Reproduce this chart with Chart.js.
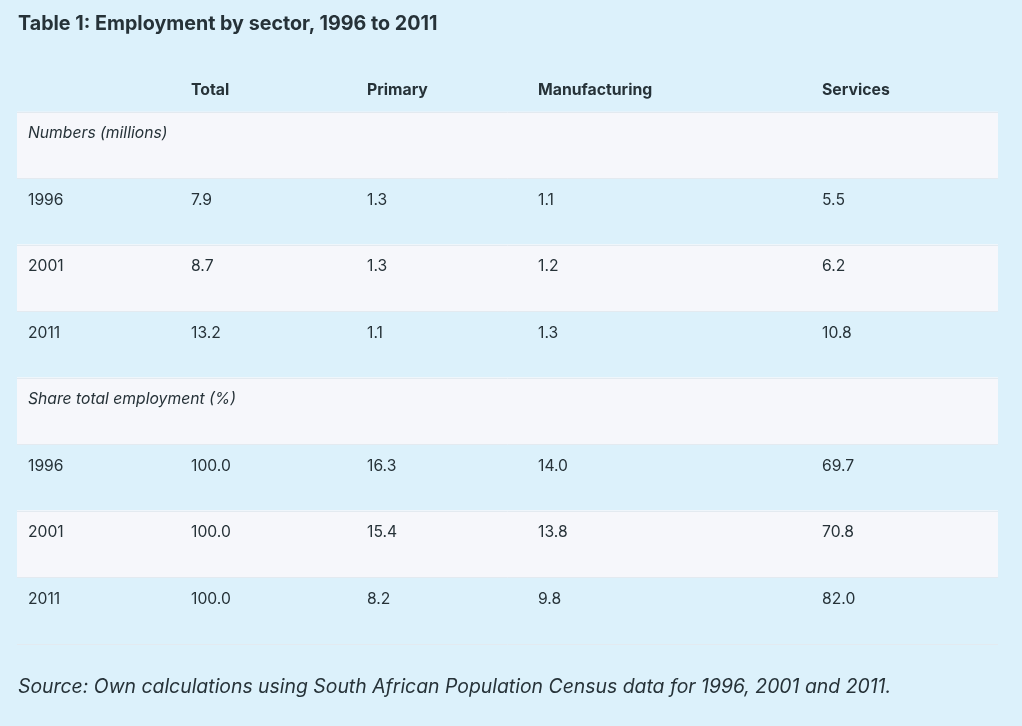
<!DOCTYPE html>
<html>
<head>
<meta charset="utf-8">
<script src="https://cdn.jsdelivr.net/npm/chart.js@4"></script>
<style>
  body { margin: 0; background: #dcf1fb; font-family: Inter, sans-serif; color: #263238; }
  #wrap { position: relative; width: 1022px; height: 726px; overflow: hidden; }
  #title { position: absolute; left: 18px; top: 11px; font-size: 19.7px; font-weight: 700; }
  #source { position: absolute; left: 18px; top: 674px; font-size: 19.4px; font-style: italic; }
  canvas { position: absolute; left: 0; top: 0; }
</style>
</head>
<body>
<div id="wrap">
  <canvas id="tableChart" width="1022" height="726"></canvas>
  <div id="title">Table 1: Employment by sector, 1996 to 2011</div>
  <div id="source">Source: Own calculations using South African Population Census data for 1996, 2001 and 2011.</div>
</div>
<script>
// table contents
const years = ["1996", "2001", "2011"];
const sectors = ["Total", "Primary", "Manufacturing", "Services"];
const sectionLabels = ["Numbers (millions)", "Share total employment (%)"];

const numbersTotal = [7.9, 8.7, 13.2];
const numbersPrimary = [1.3, 1.3, 1.1];
const numbersManufacturing = [1.1, 1.2, 1.3];
const numbersServices = [5.5, 6.2, 10.8];

const shareTotal = [100.0, 100.0, 100.0];
const sharePrimary = [16.3, 15.4, 8.2];
const shareManufacturing = [14.0, 13.8, 9.8];
const shareServices = [69.7, 70.8, 82.0];

// column left edges on the x scale (table is 981 units wide)
const colEdges = [0, 163, 339, 510, 794];
const tableWidth = 981;

// build the row list from the arrays
const rows = [];
rows.push({ label: sectionLabels[0], section: true });
years.forEach((yr, i) => {
    rows.push({ label: yr, values: [numbersTotal[i], numbersPrimary[i], numbersManufacturing[i], numbersServices[i]] });
});
rows.push({ label: sectionLabels[1], section: true });
years.forEach((yr, i) => {
    rows.push({ label: yr, values: [shareTotal[i], sharePrimary[i], shareManufacturing[i], shareServices[i]] });
});

const textColor = "#263238";
const stripeColor = "#f6f7fb";
const lineColor = "#e3eaf0";

const tableText = {
    id: "tableText",
    afterDatasetsDraw(chart) {
        const { ctx, chartArea, scales: { x, y } } = chart;
        const half = (y.getPixelForValue(1) - y.getPixelForValue(0)) / 2;
        ctx.save();

        // row borders
        ctx.strokeStyle = lineColor;
        ctx.lineWidth = 1;
        for (let i = 0; i <= rows.length; i++) {
            const yy = Math.round(y.getPixelForValue(i) - half) + 0.5;
            ctx.beginPath();
            ctx.moveTo(x.getPixelForValue(0), yy);
            ctx.lineTo(x.getPixelForValue(tableWidth), yy);
            ctx.stroke();
        }

        ctx.fillStyle = textColor;
        ctx.textAlign = "left";
        ctx.textBaseline = "middle";

        // header
        ctx.font = "bold 15.8px Inter";
        sectors.forEach((s, c) => {
            ctx.fillText(s, x.getPixelForValue(colEdges[c + 1]) + 11, chartArea.top - 21);
        });

        // body
        rows.forEach((r, i) => {
            const ty = y.getPixelForValue(i) - 11;
            ctx.font = r.section ? "italic 15.7px Inter" : "15.7px Inter";
            ctx.fillText(r.label, x.getPixelForValue(colEdges[0]) + 11, ty);
            if (r.values) {
                r.values.forEach((v, c) => {
                    ctx.fillText(v.toFixed(1), x.getPixelForValue(colEdges[c + 1]) + 11, ty);
                });
            }
        });
        ctx.restore();
    }
};

new Chart("tableChart", {
    type: "bar",
    data: {
        labels: rows.map((r, i) => String(i)),
        datasets: [{
            data: rows.map((r, i) => i % 2 === 0 ? [0, tableWidth] : null),
            backgroundColor: stripeColor,
            barPercentage: 1,
            categoryPercentage: 1,
            borderWidth: 0
        }]
    },
    options: {
        indexAxis: "y",
        responsive: false,
        animation: false,
        layout: { padding: { left: 17, right: 24, top: 111.5, bottom: 82.5 } },
        scales: {
            x: { type: "linear", min: 0, max: tableWidth, display: false },
            y: { type: "category", display: false }
        },
        plugins: {
            legend: { display: false },
            tooltip: { enabled: false }
        }
    },
    plugins: [tableText]
});
</script>
</body>
</html>
